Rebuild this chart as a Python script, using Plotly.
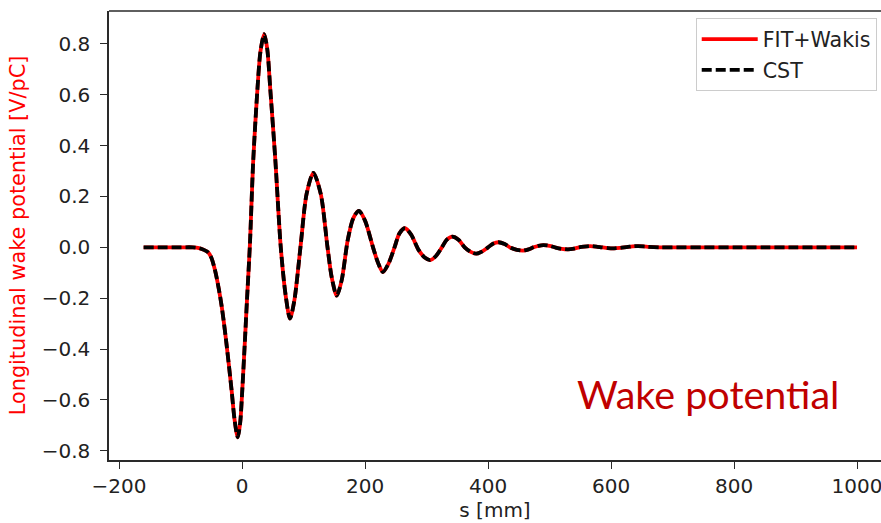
import plotly.graph_objects as go

# ---- data ----
s_mm = [-160, -130, -100, -80, -70, -62, -55, -50, -44, -38, -33, -26, -17, -12, -7, -3, 0, 4, 8, 13,
        18, 25, 30, 36, 41, 46, 54, 63, 71, 78, 85, 95, 105, 116, 128, 139, 146, 154, 162, 172,
        181, 190, 200, 213, 221, 229, 238, 248, 256, 265, 275, 287, 297, 306, 315, 325, 333, 342,
        352, 362, 372, 381, 390, 400, 408, 417, 427, 437, 447, 457, 466, 474, 482, 490, 500, 510,
        520, 530, 540, 548, 556, 566, 576, 585, 595, 605, 615, 625, 635, 644, 660, 680, 700, 750,
        800, 850, 900, 950, 1000]

wake_fit = [0.0, 0.0, 0.0, 0.0, -0.003, -0.010, -0.020, -0.040, -0.089, -0.160, -0.233, -0.364, -0.561,
            -0.680, -0.747, -0.690, -0.580, -0.400, -0.210, 0.020,
            0.330, 0.620, 0.770, 0.838, 0.780, 0.620, 0.350, 0.0, -0.190, -0.280, -0.210, 0.0, 0.210,
            0.293, 0.210, 0.0, -0.120, -0.190, -0.130, 0.030,
            0.115, 0.143, 0.105, 0.0, -0.060, -0.097, -0.065, 0.0, 0.055, 0.075, 0.050, -0.010, -0.040,
            -0.050, -0.035, 0.0, 0.030, 0.042,
            0.030, 0.0, -0.018, -0.025, -0.017, 0.0, 0.014, 0.020, 0.013, -0.002, -0.010, -0.013,
            -0.008, 0.0, 0.006, 0.009, 0.006, -0.001,
            -0.006, -0.008, -0.005, 0.0, 0.003, 0.005, 0.003, 0.0, -0.003, -0.004, -0.002, 0.001,
            0.004, 0.005, 0.002, 0.0, 0.0, 0.0,
            0.0, 0.0, 0.0, 0.0, 0.0]

wake_cst = list(wake_fit)

x_ticks = [-200, 0, 200, 400, 600, 800, 1000]
x_ticktext = ["\u2212200", "0", "200", "400", "600", "800", "1000"]
y_ticks = [-0.8, -0.6, -0.4, -0.2, 0.0, 0.2, 0.4, 0.6, 0.8]
y_ticktext = ["\u22120.8", "\u22120.6", "\u22120.4", "\u22120.2", "0.0", "0.2", "0.4", "0.6", "0.8"]

series_names = ["FIT+Wakis", "CST"]

FONT = "DejaVu Sans"
SPINE = "#2a2a2a"

fig = go.Figure()
fig.add_trace(go.Scatter(x=s_mm, y=wake_fit, mode="lines", name=series_names[0], legendgroup="a",
                         line=dict(color="#ff0000", width=3.8, shape="spline", smoothing=0.8)))
fig.add_trace(go.Scatter(x=s_mm, y=wake_cst, mode="lines", name=series_names[1], legendgroup="b",
                         line=dict(color="#000000", width=3.8, dash="10px,4px", shape="spline", smoothing=0.8)))

axis_common = dict(showgrid=False, zeroline=False, showline=True, linecolor=SPINE, linewidth=1.5,
                   ticks="outside", ticklen=7, tickwidth=1.4, tickcolor=SPINE,
                   tickfont=dict(family=FONT, size=20, color="#222222"))

fig.update_layout(
    width=881, height=523,
    margin=dict(l=109, r=0, t=11, b=63),
    paper_bgcolor="white", plot_bgcolor="white",
    font=dict(family=FONT, size=20, color="#222222"),
    xaxis=dict(range=[-216.3, 1039], tickvals=x_ticks, ticktext=x_ticktext, mirror=False,
               ticklabeloverflow="allow",
               title=dict(text="s [mm]", font=dict(family=FONT, size=20, color="#222222"), standoff=6),
               **axis_common),
    yaxis=dict(range=[-0.836, 0.929], tickvals=y_ticks, ticktext=y_ticktext, ticklabelstandoff=6,
               title=dict(text="Longitudinal wake potential [V/pC]",
                          font=dict(family=FONT, size=20.8, color="#ff0000"), standoff=10),
               **axis_common),
    shapes=[dict(type="line", xref="paper", yref="paper", x0=0, x1=1.02, y0=1, y1=1,
                 line=dict(color=SPINE, width=1.5))],
    legend=dict(x=0.760, y=0.984, xanchor="left", yanchor="top", bgcolor="white",
                bordercolor="#cccccc", borderwidth=1, tracegroupgap=1, itemwidth=56,
                font=dict(family=FONT, size=20.6, color="#222222")),
    annotations=[dict(text="Wake potential", xref="paper", yref="paper", x=0.7765, y=0.147,
                      xanchor="center", yanchor="middle", showarrow=False,
                      font=dict(family="Lato", size=39.5, color="#c00000"))],
)

fig.write_html("out.html")
